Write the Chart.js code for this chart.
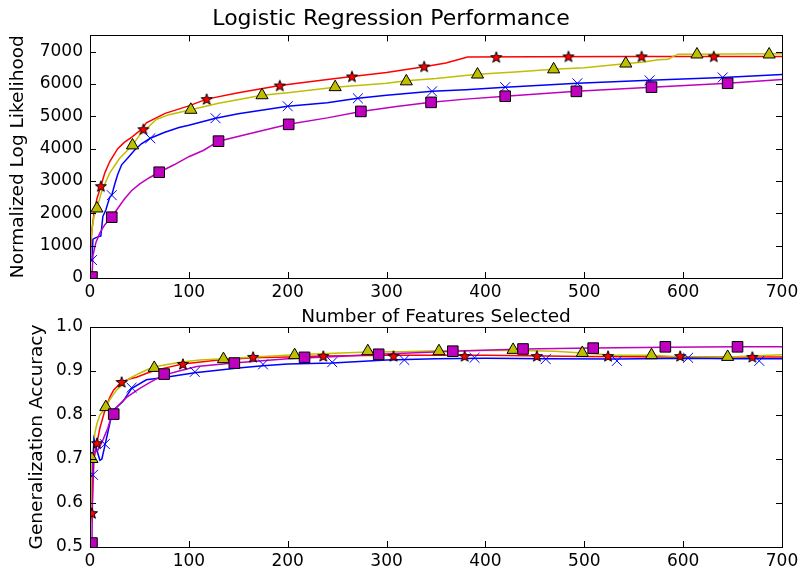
<!DOCTYPE html>
<html>
<head>
<meta charset="utf-8">
<script src="https://cdn.jsdelivr.net/npm/chart.js@4.4.1/dist/chart.umd.min.js"></script>
<style>
  html, body { margin: 0; padding: 0; background: #fff; }
  #wrap { position: relative; width: 803px; height: 573px; overflow: hidden; }
  canvas { position: absolute; left: 0; }
  #top { top: 0; width: 803px; height: 330px; }
  #bottom { top: 300px; width: 803px; height: 273px; }
</style>
</head>
<body>
<div id="wrap">
  <canvas id="top" width="803" height="330"></canvas>
  <canvas id="bottom" width="803" height="273"></canvas>
</div>
<script>
// axis ticks
const featureTicks = [0, 100, 200, 300, 400, 500, 600, 700];
const llTicks = [0, 1000, 2000, 3000, 4000, 5000, 6000, 7000];
const accTicks = [0.5, 0.6, 0.7, 0.8, 0.9, 1.0];

// top plot: normalized log likelihood
const llRedX = [0, 2, 4, 7, 11, 15, 20, 28, 35, 42, 53, 57, 76, 100, 118, 150, 192, 230, 265, 300, 338, 360, 382, 450, 550, 700];
const llRedY = [600, 1500, 2000, 2450, 2840, 3250, 3600, 4000, 4200, 4350, 4620, 4800, 5090, 5320, 5530, 5730, 5950, 6100, 6230, 6350, 6530, 6650, 6830, 6840, 6850, 6850];
const llYellowX = [0, 2, 4, 7, 12, 20, 30, 43, 52, 60, 67, 80, 102, 130, 174, 200, 248, 300, 320, 350, 392, 430, 469, 500, 541, 560, 575, 585, 590, 595, 700];
const llYellowY = [900, 1500, 1900, 2150, 2700, 3250, 3700, 4100, 4500, 4700, 4900, 5050, 5200, 5400, 5650, 5730, 5900, 6020, 6100, 6170, 6300, 6370, 6450, 6500, 6620, 6680, 6750, 6760, 6850, 6920, 6930];
const llBlueX = [0, 2, 3, 6, 11, 13, 16, 20, 22, 25, 28, 32, 38, 45, 52, 61, 75, 90, 100, 127, 150, 200, 240, 271, 300, 346, 380, 420, 493, 566, 640, 700];
const llBlueY = [500, 555, 1200, 1250, 1300, 1900, 2100, 2500, 2560, 2900, 3200, 3500, 3700, 3950, 4150, 4320, 4500, 4650, 4720, 4940, 5080, 5310, 5420, 5560, 5650, 5770, 5820, 5900, 6020, 6110, 6200, 6290];
const llMagentaX = [0, 2, 3, 6, 10, 15, 22, 28, 35, 42, 50, 60, 70, 85, 100, 115, 130, 160, 201, 240, 274, 310, 345, 380, 420, 492, 568, 645, 700];
const llMagentaY = [0, 30, 700, 1100, 1400, 1650, 1880, 2150, 2450, 2700, 2900, 3100, 3270, 3500, 3750, 3950, 4230, 4450, 4750, 4950, 5150, 5300, 5430, 5530, 5620, 5770, 5900, 6020, 6140];

// top plot markers
const llRedMarkX = [11, 54, 118, 192, 265, 338, 411, 484, 558, 631];
const llRedMarkY = [2840, 4600, 5530, 5950, 6230, 6540, 6830, 6850, 6850, 6850];
const llYellowMarkX = [7, 43, 102, 174, 248, 320, 392, 469, 542, 614, 687];
const llYellowMarkY = [2150, 4100, 5200, 5650, 5900, 6080, 6290, 6450, 6630, 6910, 6910];
const llBlueMarkX = [2, 22, 61, 127, 200, 271, 346, 420, 493, 566, 640];
const llBlueMarkY = [555, 2560, 4320, 4940, 5310, 5555, 5770, 5900, 6020, 6110, 6200];
const llMagentaMarkX = [2, 22, 70, 130, 201, 274, 345, 420, 492, 568, 645];
const llMagentaMarkY = [30, 1880, 3270, 4230, 4750, 5150, 5430, 5620, 5770, 5900, 6020];

// bottom plot: generalization accuracy
const accRedX = [0, 2, 4, 7, 10, 15, 20, 24, 32, 40, 47, 60, 74, 94, 130, 165, 200, 236, 300, 400, 500, 600, 700];
const accRedY = [0.55, 0.577, 0.70, 0.736, 0.77, 0.81, 0.84, 0.857, 0.875, 0.882, 0.886, 0.897, 0.906, 0.916, 0.925, 0.930, 0.932, 0.934, 0.936, 0.936, 0.933, 0.932, 0.932];
const accYellowX = [0, 2, 5, 7, 10, 16, 20, 27, 40, 50, 64, 91, 111, 135, 207, 281, 313, 353, 428, 470, 498, 530, 568, 600, 645, 680, 700];
const accYellowY = [0.50, 0.70, 0.76, 0.78, 0.80, 0.818, 0.835, 0.857, 0.883, 0.895, 0.909, 0.920, 0.925, 0.928, 0.937, 0.943, 0.944, 0.946, 0.947, 0.945, 0.941, 0.936, 0.936, 0.932, 0.932, 0.935, 0.937];
const accBlueX = [0, 3, 4, 7, 10, 12, 15, 19, 23, 28, 33, 42, 57, 75, 106, 150, 175, 200, 245, 300, 350, 400, 461, 533, 605, 650, 700];
const accBlueY = [0.66, 0.664, 0.745, 0.72, 0.697, 0.70, 0.73, 0.77, 0.81, 0.82, 0.83, 0.86, 0.88, 0.885, 0.896, 0.907, 0.912, 0.916, 0.918, 0.925, 0.928, 0.929, 0.928, 0.927, 0.929, 0.928, 0.928];
const accMagentaX = [0, 2, 3, 8, 13, 18, 22, 28, 37, 50, 62, 74, 90, 108, 145, 200, 250, 292, 367, 438, 509, 582, 655, 700];
const accMagentaY = [0.50, 0.505, 0.713, 0.72, 0.743, 0.77, 0.80, 0.82, 0.84, 0.86, 0.876, 0.89, 0.90, 0.91, 0.918, 0.928, 0.933, 0.938, 0.945, 0.950, 0.952, 0.954, 0.955, 0.955];

// bottom plot markers
const accRedMarkX = [2, 7, 32, 94, 165, 236, 307, 379, 452, 524, 597, 670];
const accRedMarkY = [0.577, 0.736, 0.875, 0.916, 0.932, 0.934, 0.934, 0.934, 0.934, 0.934, 0.934, 0.932];
const accYellowMarkX = [2, 16, 65, 135, 207, 281, 353, 428, 498, 568, 645];
const accYellowMarkY = [0.70, 0.818, 0.907, 0.927, 0.936, 0.945, 0.945, 0.948, 0.941, 0.936, 0.932];
const accBlueMarkX = [3, 15, 42, 106, 175, 245, 318, 389, 461, 533, 605, 677];
const accBlueMarkY = [0.664, 0.734, 0.862, 0.898, 0.915, 0.920, 0.925, 0.930, 0.927, 0.923, 0.930, 0.923];
const accMagentaMarkX = [2, 24, 75, 146, 217, 292, 367, 438, 509, 582, 655];
const accMagentaMarkY = [0.509, 0.802, 0.893, 0.918, 0.931, 0.938, 0.945, 0.950, 0.952, 0.955, 0.955];

const RED = '#ff0000', YELLOW = '#bfbf00', BLUE = '#0000ff', MAGENTA = '#bf00bf';

Chart.defaults.font.family = 'DejaVu Sans';
Chart.defaults.color = '#000';

const zip = (xs, ys) => xs.map((x, i) => ({ x: x, y: ys[i] }));

// filled five point star like matplotlib '*'
function makeStar(fill) {
  const c = document.createElement('canvas');
  c.width = 14; c.height = 14;
  const g = c.getContext('2d');
  g.beginPath();
  for (let i = 0; i < 10; i++) {
    const r = i % 2 ? 2.4 : 5.8;
    const a = -Math.PI / 2 + i * Math.PI / 5;
    const px = 7 + r * Math.cos(a), py = 7.5 + r * Math.sin(a);
    i ? g.lineTo(px, py) : g.moveTo(px, py);
  }
  g.closePath();
  g.fillStyle = fill;
  g.fill();
  g.strokeStyle = '#000';
  g.lineWidth = 1;
  g.stroke();
  return c;
}
const star = makeStar(RED);

function line(xs, ys, color) {
  return { data: zip(xs, ys), showLine: true, pointRadius: 0, borderColor: color, borderWidth: 1.5, tension: 0 };
}
function marks(xs, ys, style, color, radius) {
  const edge = style === 'crossRot' ? color : '#000';
  return { data: zip(xs, ys), showLine: false, pointStyle: style, pointRadius: radius,
    backgroundColor: color, borderColor: edge, borderWidth: 1 };
}

// box around the plot plus inward ticks on all four sides
const frameTicks = {
  id: 'frameTicks',
  afterDraw(chart) {
    const { ctx, chartArea: a, scales: { x, y } } = chart;
    const len = 6;
    ctx.save();
    ctx.strokeStyle = '#000';
    ctx.lineWidth = 1;
    ctx.beginPath();
    x.ticks.forEach(t => {
      const px = Math.round(x.getPixelForValue(t.value)) + 0.5;
      ctx.moveTo(px, a.bottom); ctx.lineTo(px, a.bottom - len);
      ctx.moveTo(px, a.top); ctx.lineTo(px, a.top + len);
    });
    y.ticks.forEach(t => {
      const py = Math.round(y.getPixelForValue(t.value)) + 0.5;
      ctx.moveTo(a.left, py); ctx.lineTo(a.left + len, py);
      ctx.moveTo(a.right, py); ctx.lineTo(a.right - len, py);
    });
    ctx.stroke();
    ctx.strokeRect(Math.round(a.left) + 0.5, Math.round(a.top) + 0.5, Math.round(a.width), Math.round(a.height));
    ctx.restore();
  }
};

function xAxis(title, height) {
  return {
    type: 'linear', min: featureTicks[0], max: featureTicks[featureTicks.length - 1],
    afterBuildTicks(s) { s.ticks = featureTicks.map(v => ({ value: v })); },
    ticks: { font: { size: 17 }, padding: 4, maxRotation: 0, callback: v => String(v) },
    grid: { display: false, drawTicks: false },
    border: { display: false },
    title: { display: !!title, text: title, font: { size: 18.5 }, padding: { top: 0, bottom: 2 } },
    afterFit(s) { s.height = height; }
  };
}

function yAxis(min, max, tickList, fmt, title, width) {
  return {
    min: min, max: max,
    afterBuildTicks(s) { s.ticks = tickList.map(v => ({ value: v })); },
    ticks: { font: { size: 17 }, padding: 7, callback: fmt },
    grid: { display: false, drawTicks: false },
    border: { display: false },
    title: { display: true, text: title, font: { size: 18.5 }, padding: { top: 7, bottom: 0 } },
    afterFit(s) { s.width = width; }
  };
}

new Chart(document.getElementById('top'), {
  type: 'scatter',
  data: {
    datasets: [
      marks(llMagentaMarkX, llMagentaMarkY, 'rect', MAGENTA, 7.5),
      marks(llBlueMarkX, llBlueMarkY, 'crossRot', BLUE, 7),
      marks(llYellowMarkX, llYellowMarkY, 'triangle', YELLOW, 7),
      marks(llRedMarkX, llRedMarkY, star, RED, 6),
      line(llMagentaX, llMagentaY, MAGENTA),
      line(llBlueX, llBlueY, BLUE),
      line(llYellowX, llYellowY, YELLOW),
      line(llRedX, llRedY, RED)
    ]
  },
  options: {
    responsive: false,
    animation: false,
    events: [],
    layout: { padding: { left: 0, right: 21, top: 0, bottom: 0 } },
    plugins: {
      legend: { display: false },
      tooltip: { enabled: false },
      title: { display: true, text: 'Logistic Regression Performance', font: { size: 22, weight: 'normal' }, color: '#000', padding: { top: 6, bottom: 3 } }
    },
    scales: {
      x: xAxis('Number of Features Selected', 52),
      y: yAxis(0, 7500, llTicks, v => String(v), 'Normalized Log Likelihood', 90)
    }
  },
  plugins: [frameTicks]
});

new Chart(document.getElementById('bottom'), {
  type: 'scatter',
  data: {
    datasets: [
      marks(accMagentaMarkX, accMagentaMarkY, 'rect', MAGENTA, 7.5),
      marks(accBlueMarkX, accBlueMarkY, 'crossRot', BLUE, 7),
      marks(accYellowMarkX, accYellowMarkY, 'triangle', YELLOW, 7),
      marks(accRedMarkX, accRedMarkY, star, RED, 6),
      line(accMagentaX, accMagentaY, MAGENTA),
      line(accBlueX, accBlueY, BLUE),
      line(accYellowX, accYellowY, YELLOW),
      line(accRedX, accRedY, RED)
    ]
  },
  options: {
    responsive: false,
    animation: false,
    events: [],
    layout: { padding: { left: 19, right: 21, top: 27, bottom: 0 } },
    plugins: { legend: { display: false }, tooltip: { enabled: false } },
    scales: {
      x: xAxis('', 26),
      y: yAxis(0.5, 1.0, accTicks, v => v.toFixed(1), 'Generalization Accuracy', 71)
    }
  },
  plugins: [frameTicks]
});
</script>
</body>
</html>
